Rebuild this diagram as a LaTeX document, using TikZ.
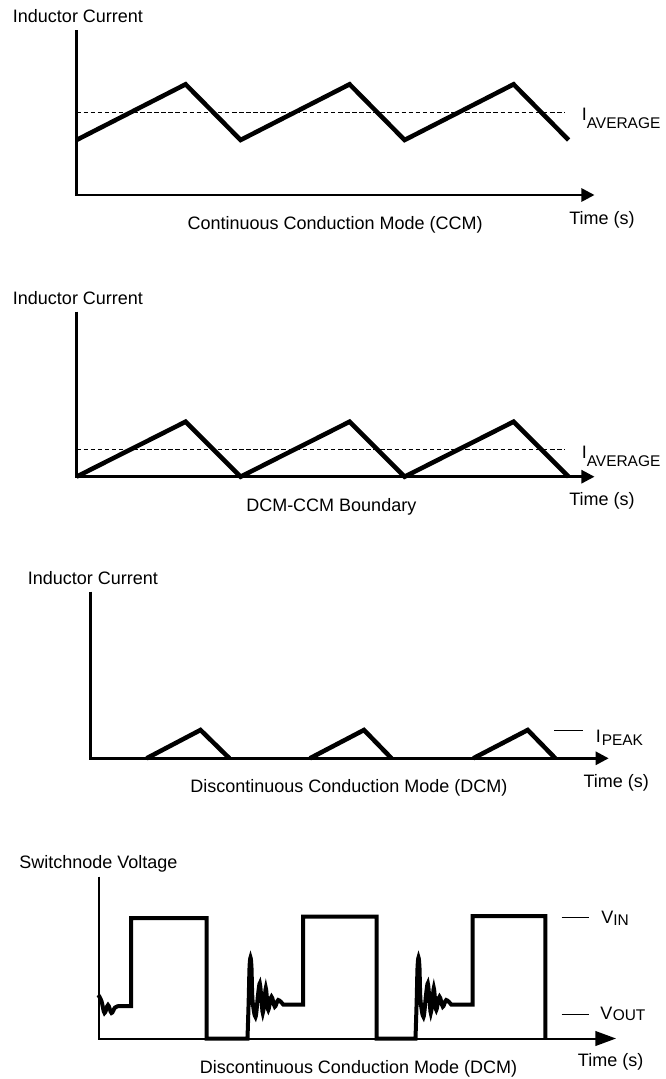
\documentclass[tikz,border=0pt]{standalone}
\usepackage{fontspec}
\setmainfont{Liberation Sans}
\usetikzlibrary{arrows.meta}

\tikzset{
  lbl/.style={inner sep=0pt, anchor=base west, font=\fontsize{13.5pt}{16pt}\selectfont},
  sublbl/.style={inner sep=0pt, anchor=base west, font=\fontsize{11.6pt}{14pt}\selectfont},
  axisline/.style={line width=2pt, -{Triangle[length=9.8pt,width=9.8pt]}},
  wave/.style={line width=3.4pt},
  avgline/.style={line width=1pt, dash pattern=on 3.4pt off 1.9pt},
  levelline/.style={line width=1pt},
}

\begin{document}
\begin{tikzpicture}[x=0.75pt, y=-0.75pt]
\useasboundingbox (0,0) rectangle (666,1079);

% CCM
\node[lbl] (ylab1) at (12.7,22.7) {Inductor Current};
\draw[axisline] (76.5,30) -- (76.5,195) -- (594.5,195);
\draw[wave] (76.5,140) -- (185.6,84.3) -- (240.6,140) -- (349.6,84.3) -- (404.6,140) -- (513.6,84.3) -- (568.6,140);
\draw[avgline] (76.5,112.5) -- (565,112.5);
\node[lbl] (iavg1) at (581.5,120) {I};
\node[sublbl] (iavgsub1) at (586.5,128.3) {AVERAGE};
\node[lbl] (time1) at (569,224) {Time (s)};
\node[lbl] (mode1) at (187.3,229.3) {Continuous Conduction Mode (CCM)};

% DCM-CCM boundary
\node[lbl] (ylab2) at (12.7,304.4) {Inductor Current};
\draw[axisline] (76.5,311.7) -- (76.5,476.7) -- (594.5,476.7);
\draw[wave] (76.5,476.7) -- (185.6,421.7) -- (240.6,476.7) -- (349.6,421.7) -- (404.6,476.7) -- (513.6,421.7) -- (568.6,476.7);
\draw[avgline] (76.5,449.3) -- (565,449.3);
\node[lbl] (iavg2) at (581.5,458) {I};
\node[sublbl] (iavgsub2) at (586.5,466) {AVERAGE};
\node[lbl] (time2) at (569,505.7) {Time (s)};
\node[lbl] (mode2) at (246,511) {DCM-CCM Boundary};

% DCM current
\node[lbl] (ylab3) at (27.6,584.4) {Inductor Current};
\draw[axisline] (90.5,591.7) -- (90.5,758.3) -- (608.7,758.3);
\draw[wave] (146.6,758.3) -- (200.5,730) -- (229.4,758.3);
\draw[wave] (309.9,758.3) -- (364,730) -- (391.5,758.3);
\draw[wave] (473.3,758.3) -- (527.7,730) -- (555.3,758.3);
\draw[levelline] (554.3,730.7) -- (582.7,730.7);
\node[lbl] (ipk3) at (595.5,742) {I};
\node[sublbl] (ipksub3) at (601.5,745) {PEAK};
\node[lbl] (time3) at (583.3,787.3) {Time (s)};
\node[lbl] (mode3) at (190,792) {Discontinuous Conduction Mode (DCM)};

% DCM switch node
\node[lbl] (ylab4) at (19,868.3) {Switchnode Voltage};
\draw[line width=1.5pt, -{Triangle[length=15.5pt,width=11pt]}] (99,876.7) -- (99,1038.5) -- (616,1038.5);
\draw[line width=3pt]
  plot[smooth, tension=0.6] coordinates {(98.3,995) (101.5,1001) (104.5,1013) (108,1005) (111.5,1013) (115,1007.5) (119,1006)}
  -- (131,1006) -- (131,918) -- (206.7,918) -- (206.7,1038.5) -- (247.5,1038.5)
  -- plot[smooth, tension=0.5] coordinates {(247.5,1038.5) (247.5+1.2,1000) (247.5+2,968) (247.5+3,957.5) (247.5+4,968) (247.5+5,1000) (247.5+8,1017) (247.5+10.5,995) (247.5+12.3,983.3) (247.5+14,1000) (247.5+15.3,1013) (247.5+17,1000) (247.5+18.3,988) (247.5+19.6,1000) (247.5+20.8,1010) (247.5+24,996.7) (247.5+27.3,1006.7) (247.5+30.7,1000) (247.5+35.7,1004.5)}
  -- (303,1004.5) -- (303,916.5) -- (376.5,916.5) -- (376.5,1038.5) -- (415.5,1038.5)
  -- plot[smooth, tension=0.5] coordinates {(415.5,1038.5) (415.5+1.2,1000) (415.5+2,968) (415.5+3,957.5) (415.5+4,968) (415.5+5,1000) (415.5+8,1017) (415.5+10.5,995) (415.5+12.3,983.3) (415.5+14,1000) (415.5+15.3,1013) (415.5+17,1000) (415.5+18.3,988) (415.5+19.6,1000) (415.5+20.8,1010) (415.5+24,996.7) (415.5+27.3,1006.7) (415.5+30.7,1000) (415.5+35.7,1004.5)}
  -- (472.7,1004.5) -- (472.7,916) -- (545.3,916) -- (545.3,1038.5);
\draw[levelline] (561.5,917.7) -- (589,917.7);
\draw[levelline] (561.5,1014.3) -- (588.5,1014.3);
\node[lbl] (vin4) at (601,923.3) {V};
\node[sublbl] (vinsub4) at (613,925) {IN};
\node[lbl] (vout4) at (600,1019.3) {V};
\node[sublbl] (voutsub4) at (612.5,1020.7) {OUT};
\node[lbl] (time4) at (577.7,1066) {Time (s)};
\node[lbl] (mode4) at (199.7,1073) {Discontinuous Conduction Mode (DCM)};
\end{tikzpicture}
\end{document}
